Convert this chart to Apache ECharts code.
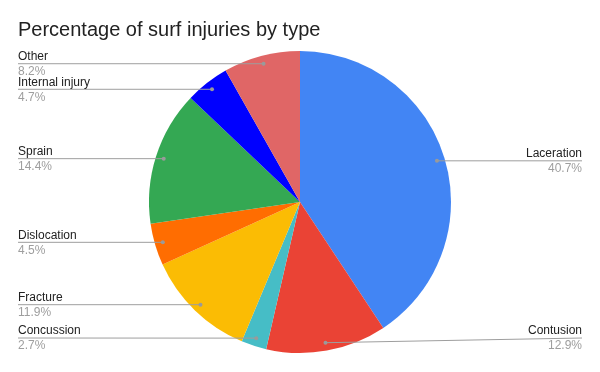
<!DOCTYPE html>
<html><head><meta charset="utf-8">
<script src="https://cdn.jsdelivr.net/npm/echarts@6/dist/echarts.min.js"></script>
<style>html,body{margin:0;padding:0;background:#fff}#c{width:600px;height:372px}</style>
</head><body><div id="c"></div>
<script>
const categories = ['Laceration','Contusion','Concussion','Fracture','Dislocation','Sprain','Internal injury','Other'];
const values = [40.7, 12.9, 2.7, 11.9, 4.5, 14.4, 4.7, 8.2];
const colors = ['#4285F4','#EA4335','#46BDC6','#FBBC04','#FF6D01','#34A853','#0000FF','#E06666'];

const CX = 300, CY = 202, R = 151;
const DOT_R = R * 0.947;
const LABEL_MAX_Y = 338;
const FONT = 'Liberation Sans, Arial, sans-serif';
const total = values.reduce((a,b)=>a+b,0);
function midAngle(i){
  let s = 0; for (let k=0;k<i;k++) s += values[k];
  return (s + values[i]/2) / total * 2 * Math.PI;
}
function dotPos(i){
  const a = midAngle(i);
  return [CX + DOT_R*Math.sin(a), CY - DOT_R*Math.cos(a), Math.sin(a) > 0];
}
const data = categories.map((c,i)=>({name:c, value:values[i], itemStyle:{color:colors[i]}}));

const chart = echarts.init(document.getElementById('c'), null, {renderer:'canvas'});
chart.setOption({
  animation:false,
  title:{text:'Percentage of surf injuries by type', left:13, top:15,
    textStyle:{fontFamily:FONT, fontSize:20, fontWeight:'normal', color:'#222'}},
  series:[
    {
      type:'pie', center:[CX,CY], radius:R, startAngle:90, clockwise:true,
      silent:true, data:data,
      label:{show:false}, labelLine:{show:false}
    },
    {
      type:'pie', center:[CX,CY], radius:[R*0.9, R], startAngle:90, clockwise:true,
      silent:true, z:5,
      data: categories.map((c,i)=>({name:c, value:values[i]})),
      itemStyle:{color:'rgba(0,0,0,0)'},
      label:{show:true, position:'outside',
        formatter: p => '{n|'+p.name+'}\n{p|'+p.value.toFixed(1)+'%}',
        rich:{
          n:{fontFamily:FONT, fontSize:12, color:'#222', lineHeight:16},
          p:{fontFamily:FONT, fontSize:12, color:'#9e9e9e', lineHeight:14}
        }},
      labelLine:{show:true, lineStyle:{color:'#9e9e9e', width:1}},
      labelLayout: function(params){
        const [dx, dy, right] = dotPos(params.dataIndex);
        const ex = right ? 582 : 18;
        const ly = Math.min(dy, LABEL_MAX_Y);
        return {x:ex, y:ly, align: right?'right':'left', verticalAlign:'middle',
          labelLinePoints:[[dx,dy],[dx,dy],[ex,ly]]};
      }
    },
    {
      type:'pie', center:[CX,CY], radius:[R*0.9, R], startAngle:90, clockwise:true,
      silent:true, z:6,
      data: categories.map((c,i)=>({name:c, value:values[i]})),
      itemStyle:{color:'rgba(0,0,0,0)'},
      label:{show:true, position:'inside', formatter:'{d|}',
        rich:{d:{width:4, height:4, borderRadius:2, backgroundColor:'#9a9a9a'}}},
      labelLine:{show:false},
      labelLayout: function(params){
        const [dx, dy] = dotPos(params.dataIndex);
        return {x:dx, y:dy, align:'center', verticalAlign:'middle'};
      }
    }
  ]
});
</script></body></html>
